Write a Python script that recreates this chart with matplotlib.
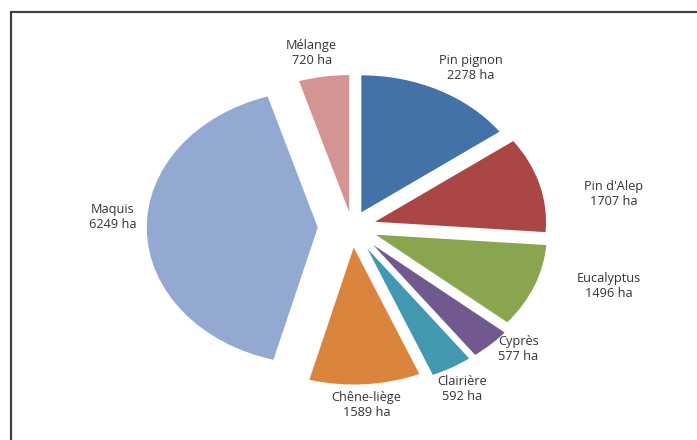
import numpy as np
import matplotlib
matplotlib.use('Agg')
from matplotlib import pyplot as plt
from matplotlib.patches import Rectangle

plt.rcParams['font.family'] = ['Open Sans', 'DejaVu Sans']

# data (clockwise from 12 o'clock)
names = ['Pin pignon', "Pin d'Alep", 'Eucalyptus', 'Cyprès', 'Clairière',
         'Chêne-liège', 'Maquis', 'Mélange']
surfaces = [2278, 1707, 1496, 577, 592, 1589, 6249, 720]
colors = ['#4471A7', '#AA4643', '#8AA54F', '#71588F', '#4198AF',
          '#DB843D', '#94A9D1', '#D39493']

# explosion per slice, and where the labels sit (distance, angle shift)
explode = [0.12, 0.14, 0.15, 0.18, 0.18, 0.15, 0.2, 0.11]
lab_dist = [1.35, 1.55, 1.56, 1.32, 1.35, 1.30, 1.40, 1.29]
lab_shift = [-4, -7, 6, 4, -1, 0, -4, 2]

fig = plt.figure(figsize=(6.97, 4.4), dpi=100)
ax = fig.add_axes([0, 0, 1, 1])

wedges, _ = ax.pie(surfaces, colors=colors, explode=explode, startangle=90,
                   counterclock=False, wedgeprops=dict(linewidth=0))

# the pie is drawn stretched sideways (ellipse 171 x 137 px)
ax.set_aspect('auto')
ax.set_xlim(-352 / 171, (697 - 352) / 171)
ax.set_ylim(-(440 - 227) / 137, 227 / 137)
ax.axis('off')

for w, n, v, d, s in zip(wedges, names, surfaces, lab_dist, lab_shift):
    a = np.deg2rad((w.theta1 + w.theta2) / 2 + s)
    ax.text(d * np.cos(a), d * np.sin(a), '%s\n%d ha' % (n, v),
            ha='center', va='center', fontsize=9.2, color='#333333',
            linespacing=1.2)

# chart frame (only left and top edges are visible in the crop)
fig.add_artist(Rectangle((11 / 697, -0.1), 1.2, 1 - 12 / 440 + 0.1,
                         transform=fig.transFigure, fill=False,
                         edgecolor='#404040', linewidth=1.6))

plt.savefig('out.png', dpi=100)
